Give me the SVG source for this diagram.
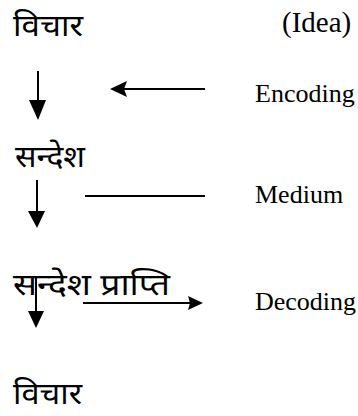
<svg xmlns="http://www.w3.org/2000/svg" width="358" height="416" viewBox="0 0 358 416">
<style>
.hi{font-family:"Noto Sans Devanagari","Noto Sans","Lohit Devanagari",sans-serif;font-size:30px;fill:#000}
.en{font-family:"Liberation Serif","Times New Roman",serif;font-size:26px;fill:#000}
.ln{stroke:#000;stroke-width:2;fill:none}
.hd{fill:#000}
</style>
<rect width="358" height="416" fill="#fff"/>
<g id="idea-top"><text class="hi" x="13" y="36" textLength="70" lengthAdjust="spacingAndGlyphs">विचार</text></g>
<g id="idea-label"><text class="en" x="282" y="32" style="font-size:29px">(Idea)</text></g>
<g id="encoding"><text class="en" x="255" y="102">Encoding</text></g>
<g id="message"><text class="hi" x="15" y="167" textLength="70" lengthAdjust="spacingAndGlyphs">सन्देश</text></g>
<g id="medium"><text class="en" x="255" y="203">Medium</text></g>
<g id="received"><text class="hi" x="13" y="295" textLength="157" lengthAdjust="spacingAndGlyphs">सन्देश प्राप्ति</text></g>
<g id="decoding"><text class="en" x="255" y="310">Decoding</text></g>
<g id="idea-bottom"><text class="hi" x="13" y="404" textLength="69" lengthAdjust="spacingAndGlyphs">विचार</text></g>
<g id="connectors">
<line class="ln" x1="38" y1="71" x2="38" y2="104"/>
<polygon class="hd" points="29,100 46,100 38,120"/>
<line class="ln" x1="122" y1="89" x2="205" y2="89"/>
<polygon class="hd" points="110,89 127,81 124,89 127,97"/>
<line class="ln" x1="37" y1="180" x2="37" y2="214"/>
<polygon class="hd" points="28,211 45,211 37,228"/>
<line class="ln" x1="85" y1="196" x2="205" y2="196"/>
<line class="ln" x1="36" y1="277" x2="36" y2="314"/>
<polygon class="hd" points="28,311 44,311 36,328"/>
<line class="ln" x1="83" y1="303" x2="192" y2="303"/>
<polygon class="hd" points="203,303 188,296 190,303 188,310"/>
</g>
</svg>
